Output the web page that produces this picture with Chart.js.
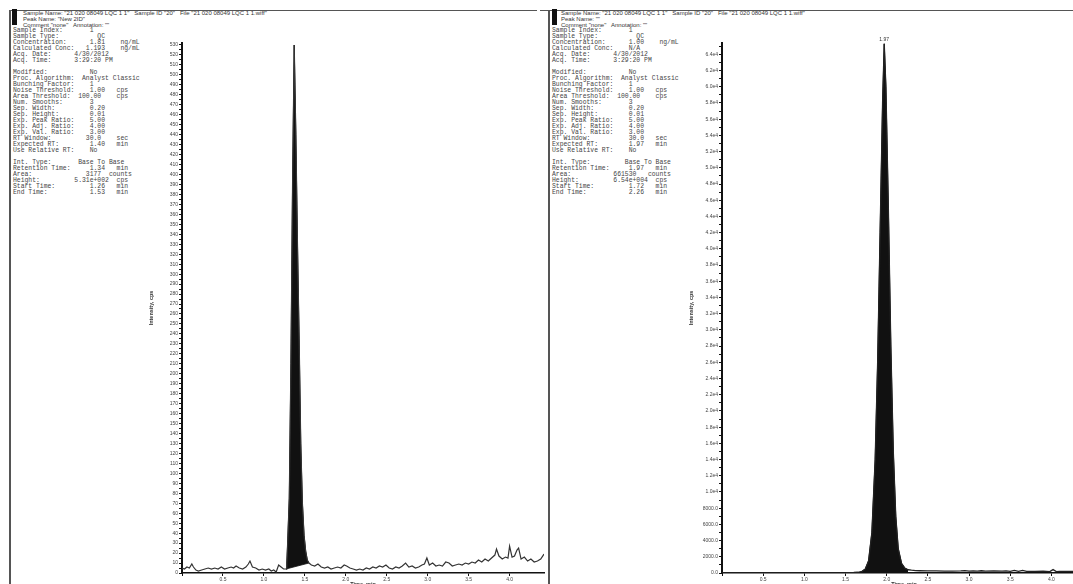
<!DOCTYPE html>
<html>
<head>
<meta charset="utf-8">
<script src="https://cdn.jsdelivr.net/npm/chart.js@4.4.1/dist/chart.umd.min.js"></script>
<style>
  html, body { margin: 0; padding: 0; width: 1073px; height: 584px; overflow: hidden; background: #fff; }
  canvas { position: absolute; top: 0; }
  .hdr { position: absolute; font: 6px "Liberation Sans", Arial, sans-serif; color: #333; white-space: pre; line-height: 6px; }
  .info { position: absolute; margin: 0; font: 6.4px "Liberation Mono", monospace; color: #444; line-height: 6px; white-space: pre; }
  .ln { position: absolute; background: #555; }
  .blk { position: absolute; background: #111; }
</style>
</head>
<body>
<div class="ln" style="left:9px;top:10px;width:528px;height:1.3px"></div>
<div class="ln" style="left:9px;top:10px;width:1.5px;height:574px"></div>
<div class="blk" style="left:12px;top:9px;width:5px;height:16px"></div>
<div class="hdr" style="left:23px;top:10px">Sample Name: "21 020 08049 LQC 1 1"   Sample ID "20"   File "21 020 08049 LQC 1 1.wiff"</div>
<div class="hdr" style="left:23px;top:16px">Peak Name: "New 2ID"</div>
<div class="hdr" style="left:23px;top:22px">Comment "none"   Annotation: ""</div>
<pre class="info" id="infoLeft" style="left:13px;top:28px"></pre>

<div class="ln" style="left:540px;top:10px;width:533px;height:1.3px"></div>
<div class="ln" style="left:548px;top:10px;width:1.5px;height:574px"></div>
<div class="blk" style="left:552px;top:9px;width:5px;height:16px"></div>
<div class="hdr" style="left:561px;top:10px">Sample Name: "21 020 08049 LQC 1 1"   Sample ID "20"   File "21 020 08049 LQC 1 1.wiff"</div>
<div class="hdr" style="left:561px;top:16px">Peak Name: ""</div>
<div class="hdr" style="left:561px;top:22px">Comment "none"   Annotation: ""</div>
<pre class="info" id="infoRight" style="left:552px;top:28px"></pre>

<canvas id="chartLeft" width="545" height="590" style="left:0px"></canvas>
<canvas id="chartRight" width="547" height="590" style="left:540px"></canvas>

<script>
// ---- datos: cromatograma izquierdo (analito) ----
const leftTimes = [0.00, 0.03, 0.06, 0.09, 0.12, 0.14, 0.17, 0.20, 0.24, 0.28, 0.32, 0.36, 0.40, 0.44, 0.48, 0.52, 0.56, 0.60, 0.63, 0.66,
  0.70, 0.74, 0.78, 0.81, 0.83, 0.86, 0.90, 0.94, 0.98, 1.02, 1.06, 1.09, 1.12, 1.15, 1.18, 1.21, 1.24, 1.27,
  1.28, 1.29, 1.31, 1.33, 1.35, 1.37, 1.39, 1.41, 1.43, 1.45, 1.47, 1.49, 1.51, 1.53, 1.55,
  1.58, 1.62, 1.66, 1.70, 1.74, 1.78, 1.82, 1.86, 1.90, 1.94, 1.98, 2.01, 2.05, 2.09, 2.13, 2.17, 2.21, 2.25, 2.29,
  2.33, 2.37, 2.41, 2.45, 2.49, 2.53, 2.57, 2.61, 2.65, 2.69, 2.73, 2.77, 2.81, 2.85, 2.89, 2.93, 2.96, 2.99, 3.02,
  3.06, 3.10, 3.14, 3.18, 3.22, 3.26, 3.30, 3.34, 3.38, 3.42, 3.46, 3.50, 3.54, 3.58, 3.62, 3.66, 3.70, 3.74, 3.78,
  3.82, 3.84, 3.87, 3.91, 3.95, 3.98, 4.00, 4.03, 4.06, 4.09, 4.11, 4.14, 4.18, 4.22, 4.26, 4.30, 4.34, 4.38, 4.42];
const leftCps = [5, 4, 6, 5, 9, 6, 3, 2, 3, 4, 5, 4, 5, 4, 6, 4, 5, 6, 5, 7,
  5, 4, 6, 9, 12, 6, 5, 3, 4, 3, 4, 2, 3, 1, 8, 6, 4, 4,
  10, 30, 75, 210, 390, 530, 440, 330, 235, 130, 70, 38, 22, 13, 10,
  8, 7, 9, 6, 5, 6, 4, 5, 6, 5, 8, 7, 5, 4, 3, 4, 3, 5, 4,
  6, 5, 7, 6, 8, 5, 4, 6, 5, 7, 10, 6, 7, 5, 6, 8, 9, 15, 8,
  10, 7, 8, 7, 11, 10, 7, 8, 9, 8, 10, 9, 11, 10, 13, 11, 14, 12, 15,
  18, 24, 17, 14, 16, 15, 27, 16, 17, 23, 25, 14, 16, 12, 14, 11, 12, 14, 19];
// linea base "Base To Base" del pico
const leftBaseTimes = [1.27, 1.55];
const leftBaseCps = [4, 10];

// ---- datos: cromatograma derecho (estandar interno) ----
const rightTimes = [0.00, 0.20, 0.40, 0.60, 0.80, 1.00, 1.20, 1.40, 1.50, 1.60, 1.65, 1.70,
  1.74, 1.78, 1.82, 1.86, 1.89, 1.92, 1.95, 1.97, 1.99, 2.02, 2.05, 2.08, 2.11, 2.14, 2.18, 2.22, 2.26,
  2.30, 2.35, 2.40, 2.50, 2.60, 2.70, 2.80, 2.90, 2.95, 3.00, 3.05, 3.10, 3.15, 3.20, 3.30, 3.40, 3.45,
  3.50, 3.55, 3.60, 3.65, 3.70, 3.80, 3.90, 3.98, 4.02, 4.06, 4.10, 4.20, 4.30, 4.42];
const rightCps = [20, 15, 20, 15, 20, 18, 22, 25, 30, 60, 90, 200,
  500, 1500, 5000, 14000, 26000, 42000, 58000, 65300, 60000, 45000, 28000, 15000, 7000, 3000, 1200, 600, 400,
  350, 300, 280, 250, 260, 240, 230, 250, 300, 220, 260, 230, 280, 230, 250, 220, 260,
  200, 330, 200, 320, 210, 200, 220, 180, 420, 180, 200, 190, 200, 190];
const rightPeakStart = 1.70;
const rightPeakEnd = 2.26;
const rightPeakLabel = "1.97";

// ---- textos de la tabla de resultados ----
const infoLeftRows = [
  ["Sample Index:", "1", 20], ["Sample Type:", "QC", 22], ["Concentration:", "1.81", 20, "ng/mL", 28],
  ["Calculated Conc:", "1.193", 19, "ng/mL", 28], ["Acq. Date:", "4/30/2012", 16], ["Acq. Time:", "3:29:20 PM", 16], [],
  ["Modified:", "No", 20], ["Proc. Algorithm:", "Analyst Classic", 18], ["Bunching Factor:", "1", 20],
  ["Noise Threshold:", "1.00", 20, "cps", 27], ["Area Threshold:", "100.00", 17, "cps", 27], ["Num. Smooths:", "3", 20],
  ["Sep. Width:", "0.20", 20], ["Sep. Height:", "0.01", 20], ["Exp. Peak Ratio:", "5.00", 20], ["Exp. Adj. Ratio:", "4.00", 20],
  ["Exp. Val. Ratio:", "3.00", 20], ["RT Window:", "30.0", 19, "sec", 27], ["Expected RT:", "1.40", 20, "min", 27],
  ["Use Relative RT:", "No", 20], [],
  ["Int. Type:", "Base To Base", 17], ["Retention Time:", "1.34", 20, "min", 27], ["Area:", "3177", 19, "counts", 25],
  ["Height:", "5.31e+002", 16, "cps", 27], ["Start Time:", "1.26", 20, "min", 27], ["End Time:", "1.53", 20, "min", 27]
];
const infoRightRows = [
  ["Sample Index:", "1", 20], ["Sample Type:", "QC", 22], ["Concentration:", "1.00", 20, "ng/mL", 28],
  ["Calculated Conc:", "N/A", 20], ["Acq. Date:", "4/30/2012", 16], ["Acq. Time:", "3:29:20 PM", 16], [],
  ["Modified:", "No", 20], ["Proc. Algorithm:", "Analyst Classic", 18], ["Bunching Factor:", "1", 20],
  ["Noise Threshold:", "1.00", 20, "cps", 27], ["Area Threshold:", "100.00", 17, "cps", 27], ["Num. Smooths:", "3", 20],
  ["Sep. Width:", "0.20", 20], ["Sep. Height:", "0.01", 20], ["Exp. Peak Ratio:", "5.00", 20], ["Exp. Adj. Ratio:", "4.00", 20],
  ["Exp. Val. Ratio:", "3.00", 20], ["RT Window:", "30.0", 20, "sec", 27], ["Expected RT:", "1.97", 20, "min", 27],
  ["Use Relative RT:", "No", 20], [],
  ["Int. Type:", "Base To Base", 19], ["Retention Time:", "1.97", 20, "min", 27], ["Area:", "661530", 16, "counts", 25],
  ["Height:", "6.54e+004", 16, "cps", 27], ["Start Time:", "1.72", 20, "min", 27], ["End Time:", "2.26", 20, "min", 27]
];

function fila(r) {
  if (!r.length) return "";
  let s = r[0].padEnd(r[2]) + r[1];
  if (r[3]) s = s.padEnd(r[4]) + r[3];
  return s;
}
document.getElementById("infoLeft").textContent = infoLeftRows.map(fila).join("\n");
document.getElementById("infoRight").textContent = infoRightRows.map(fila).join("\n");

const pts = (ts, vs) => ts.map((t, i) => ({ x: t, y: vs[i] }));
const tickFont = { family: "Liberation Sans", size: 5 };
const titleFont = { family: "Liberation Sans", size: 5.5, weight: "bold" };

// etiqueta del tiempo de retencion sobre el pico
const etiquetaPico = {
  id: "etiquetaPico",
  afterDatasetsDraw(chart, args, opts) {
    if (!opts.text) return;
    const { ctx, scales } = chart;
    ctx.save();
    ctx.font = "5px Liberation Sans";
    ctx.fillStyle = "#333";
    ctx.textAlign = "center";
    ctx.textBaseline = "bottom";
    ctx.fillText(opts.text, scales.x.getPixelForValue(opts.x), scales.y.getPixelForValue(opts.y) - 2);
    ctx.restore();
  }
};

function opciones(yMax, yStep, yLabel, peakOpts) {
  return {
    responsive: false,
    animation: false,
    devicePixelRatio: 1,
    layout: { padding: { left: 148, right: 1, top: 43, bottom: 0 } },
    plugins: { legend: { display: false }, tooltip: { enabled: false }, etiquetaPico: peakOpts },
    elements: { point: { radius: 0 }, line: { tension: 0 } },
    scales: {
      x: {
        type: "linear", min: 0, max: 4.42,
        afterFit: (s) => { s.height = 17; },
        border: { color: "#111", width: 1.5 },
        grid: { drawOnChartArea: false, tickLength: 3, color: "#111" },
        ticks: { stepSize: 0.5, includeBounds: false, autoSkip: false, maxRotation: 0, padding: 1, font: tickFont, color: "#444",
          callback: (v) => (v === 0 ? "" : v.toFixed(1)) },
        title: { display: true, text: "Time, min", font: titleFont, color: "#333", padding: { top: 0, bottom: 2 } }
      },
      y: {
        type: "linear", min: 0, max: yMax,
        afterFit: (s) => { s.width = 34; },
        // marcas cada yStep, sin que Chart.js reajuste el paso al maximo
        afterBuildTicks: (s) => {
          const t = [];
          for (let v = 0; v <= s.max; v += yStep) t.push({ value: v });
          s.ticks = t;
        },
        border: { color: "#111", width: 2 },
        grid: { drawOnChartArea: false, tickLength: 3, color: "#111" },
        ticks: { autoSkip: false, padding: 1, font: tickFont, color: "#444", callback: yLabel },
        title: { display: true, text: "Intensity, cps", font: titleFont, color: "#333", padding: 0 }
      }
    }
  };
}

// grafico izquierdo
const picoIzq = pts(leftTimes, leftCps).filter((p) => p.x >= leftBaseTimes[0] && p.x <= leftBaseTimes[1]);
new Chart(document.getElementById("chartLeft"), {
  type: "line",
  data: {
    datasets: [
      { data: pts(leftTimes, leftCps), borderColor: "#333", borderWidth: 1.2, fill: false },
      { data: picoIzq, borderColor: "#111", borderWidth: 1, backgroundColor: "#111", fill: 2 },
      { data: pts(leftBaseTimes, leftBaseCps), borderColor: "#111", borderWidth: 0.8, fill: false }
    ]
  },
  options: opciones(532, 5, (v) => (v % 10 === 0 ? String(v) : ""), {}),
  plugins: [etiquetaPico]
});

// grafico derecho
const picoDer = pts(rightTimes, rightCps).filter((p) => p.x >= rightPeakStart && p.x <= rightPeakEnd);
const apice = picoDer.reduce((a, b) => (b.y > a.y ? b : a));
new Chart(document.getElementById("chartRight"), {
  type: "line",
  data: {
    datasets: [
      { data: pts(rightTimes, rightCps), borderColor: "#222", borderWidth: 1.3, fill: false },
      { data: picoDer, borderColor: "#111", borderWidth: 1, backgroundColor: "#111", fill: "origin" }
    ]
  },
  options: opciones(65400, 1000, (v) => {
    if (v % 2000 !== 0) return "";
    return v < 10000 ? v.toFixed(1) : (v / 10000).toFixed(1) + "e4";
  }, { text: rightPeakLabel, x: apice.x, y: apice.y }),
  plugins: [etiquetaPico]
});
</script>
</body>
</html>
